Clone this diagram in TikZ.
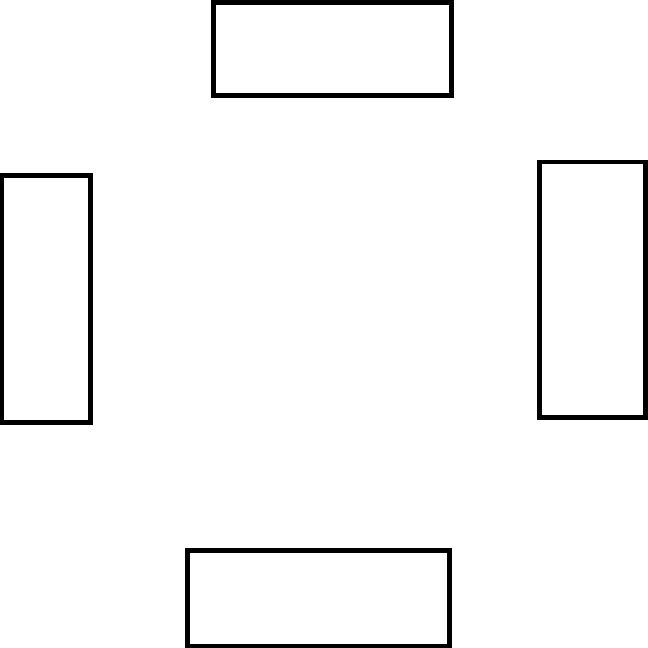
\documentclass[tikz,border=0pt]{standalone}
\begin{document}
\begin{tikzpicture}[x=1pt,y=-1pt,
  boxline/.style={draw=black,line width=4.8pt,fill=none}]
\useasboundingbox (0,0) rectangle (648,648);
\draw[boxline] (213.3,2.5) rectangle (451.5,95.2) coordinate (topbox);
\draw[boxline] (1.5,175.5) rectangle (90.3,422.5) coordinate (leftbox);
\draw[boxline] (539.2,162) rectangle (645.5,417.2) coordinate (rightbox);
\draw[boxline] (187.5,550.5) rectangle (449.8,646) coordinate (bottombox);
\end{tikzpicture}
\end{document}
